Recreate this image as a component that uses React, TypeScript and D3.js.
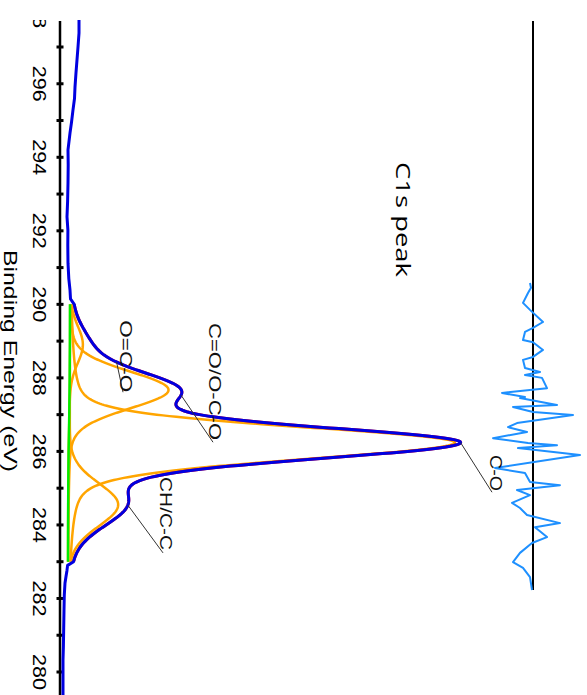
import React from 'react';
import * as d3 from 'd3';

// ---------- data ----------
const energyTicks = [280, 281, 282, 283, 284, 285, 286, 287, 288, 289, 290, 291, 292, 293, 294, 295, 296, 297];
const energyLabels = [280, 282, 284, 286, 288, 290, 292, 294, 296, 298];

const componentNames = ['O=C-O', 'C=O/O-C-O', 'C-O', 'CH/C-C'];
const componentCenters = [288.9, 287.67, 286.24, 284.55];
const componentHeights = [1300, 9900, 38600, 5000];
const componentFwhmHigh = [1.2, 1.2, 1.0, 1.4];
const componentFwhmLow = [1.2, 1.2, 1.08, 1.4];
const componentLorentz = [0.15, 0.15, 0.25, 0.15];

const regionStart = 290;
const regionEnd = 283;

const bgEnergy = [290, 289, 288, 287, 286, 285, 284, 283];
const bgCounts = [1000, 990, 965, 925, 860, 825, 808, 800];

const dataHighEnergy = [297.75, 297.38, 297.0, 296.65, 296.3, 295.91, 295.6, 295.29, 294.95, 294.66, 294.2, 293.8, 293.3, 292.8, 292.38, 292.02, 291.6, 291.12, 290.7, 290.39, 290.15];
const dataHighCounts = [1900, 1900, 1800, 1700, 1600, 1500, 1450, 1300, 1150, 1000, 800, 820, 800, 760, 700, 790, 780, 800, 880, 1000, 1050];
const dataLowEnergy = [282.9, 282.77, 282.6, 282.42, 282.1, 281.68, 281.2, 280.7, 280.32, 279.8, 279.3];
const dataLowCounts = [760, 700, 600, 500, 430, 400, 370, 340, 300, 300, 300];

const residualEnergy = [290.58, 290.45, 290.31, 290.04, 289.85, 289.52, 289.36, 289.25, 289.03, 288.97, 288.76, 288.57, 288.49, 288.27, 288.16, 288.08, 288.0, 287.72, 287.59, 287.48, 287.45, 287.26, 287.21, 287.07, 286.99, 286.77, 286.66, 286.53, 286.36, 286.23, 286.17, 286.09, 285.9, 285.55, 285.41, 285.17, 285.08, 284.95, 284.81, 284.6, 284.46, 284.27, 284.05, 283.94, 283.67, 283.51, 283.24, 282.99, 282.83, 282.58, 282.23];
const residualCounts = [-300, -200, -500, -1000, -300, 1000, 0, -800, -1000, 0, 1000, 0, -1000, -800, 700, -800, 900, 1400, -3100, -800, -1300, 2400, -2000, 0, 4000, -1600, -2500, -600, -4000, -500, 2400, -1500, 4700, -3800, -800, -300, 2700, -1600, -300, -2100, -1300, -600, 2700, 200, 1400, -100, -1300, -2000, -1000, -300, -100];

const labelEnergy = [288.59, 287.9, 285.41, 284.31];
const labelCounts = [6000, 14900, 43000, 10000];
const labelLength = [72, 117, 36, 73];
const leaderStartEnergy = [288.43, 287.53, 286.24, 284.54];
const leaderEndEnergy = [287.61, 286.25, 284.89, 283.24];
const leaderEndCounts = [6300, 15300, 43200, 10300];

// ---------- helpers ----------
function peak(E: number, c: number, h: number, fHigh: number, fLow: number, eta: number) {
  const f = E >= c ? fHigh : fLow;
  const t = (E - c) / f;
  const g = Math.exp(-4 * Math.LN2 * t * t);
  const l = 1 / (1 + 4 * t * t);
  return h * ((1 - eta) * g + eta * l);
}

export default function App() {
  const W = 587, H = 695;
  const y = d3.scaleLinear().domain([297, 280]).range([47, 672]);
  const x = d3.scaleLinear().domain([0, 10000]).range([60, 160]);
  const xr = d3.scaleLinear().domain([0, 1000]).range([533, 543]);
  const bg = d3.scaleLinear().domain(bgEnergy).range(bgCounts);

  const grid = d3.range(regionStart, regionEnd - 0.0001, -0.02);
  const comp = (i: number, E: number) =>
    peak(E, componentCenters[i], componentHeights[i], componentFwhmHigh[i], componentFwhmLow[i], componentLorentz[i]);
  const envelope = (E: number) =>
    bg(E) + componentNames.reduce((s, _, i) => s + comp(i, E), 0);

  const line = d3.line<[number, number]>().x(d => x(d[1])).y(d => y(d[0]));
  const rline = d3.line<[number, number]>().x(d => xr(d[1])).y(d => y(d[0]));

  const bgPath = line(grid.map(E => [E, bg(E)]));
  const compPaths = componentNames.map((_, i) => line(grid.map(E => [E, bg(E) + comp(i, E)])));
  const envPts: [number, number][] = grid.map(E => [E, envelope(E)]);
  const envPath = line(envPts);
  const dataPts: [number, number][] = [
    ...dataHighEnergy.map((E, i) => [E, dataHighCounts[i]] as [number, number]),
    ...envPts,
    ...dataLowEnergy.map((E, i) => [E, dataLowCounts[i]] as [number, number]),
  ];
  const dataPath = line(dataPts);
  const resPath = rline(residualEnergy.map((E, i) => [E, residualCounts[i]]));

  const plotTop = 20;
  const axisX = x(0);
  const resX = xr(0);

  return (
    <svg width={W} height={H} style={{ position: 'absolute', left: 0, top: 0, background: '#fff' }}>
      <defs>
        <clipPath id="plotClip">
          <rect x={0} y={plotTop} width={W} height={H - plotTop} />
        </clipPath>
      </defs>
      <g clipPath="url(#plotClip)">
        {/* axis */}
        <line x1={axisX} x2={axisX} y1={plotTop + 1} y2={H} stroke="#000" strokeWidth={2.5} />
        {energyTicks.map(t => (
          <line key={t} x1={axisX - 3.5} x2={axisX + 3.5} y1={y(t)} y2={y(t)} stroke="#000" strokeWidth={3} />
        ))}
        {energyLabels.map(t => (
          <text key={t} x={33} y={y(t)} transform={`rotate(90, 33, ${y(t)})`} textAnchor="middle"
            fontFamily="'Liberation Sans', Arial, sans-serif" fontSize={18} fill="#000"
            textLength={36} lengthAdjust="spacingAndGlyphs">{t}</text>
        ))}
        {/* residual zero line */}
        <line x1={resX} x2={resX} y1={plotTop + 1} y2={590} stroke="#000" strokeWidth={2} />
        <path d={resPath || ''} fill="none" stroke="#1e90ff" strokeWidth={2} strokeLinejoin="round" />
        {/* components */}
        {compPaths.map((p, i) => (
          <path key={i} d={p || ''} fill="none" stroke="#ffa500" strokeWidth={2.5} />
        ))}
        {/* background */}
        <path d={bgPath || ''} fill="none" stroke="#00ee00" strokeWidth={2.5} />
        {/* envelope and data */}
        <path d={envPath || ''} fill="none" stroke="#ff0000" strokeWidth={3} />
        <path d={dataPath || ''} fill="none" stroke="#0000e0" strokeWidth={3} strokeLinejoin="round" />
        {/* leaders */}
        {componentNames.map((_, i) => (
          <line key={i} x1={x(envelope(leaderStartEnergy[i]))} y1={y(leaderStartEnergy[i])}
            x2={x(leaderEndCounts[i])} y2={y(leaderEndEnergy[i])} stroke="#333" strokeWidth={1} />
        ))}
        {componentNames.map((n, i) => (
          <text key={n} x={x(labelCounts[i])} y={y(labelEnergy[i])}
            transform={`rotate(90, ${x(labelCounts[i])}, ${y(labelEnergy[i])})`} textAnchor="middle"
            fontFamily="'Liberation Sans', Arial, sans-serif" fontSize={16.5} fill="#111"
            textLength={labelLength[i]} lengthAdjust="spacingAndGlyphs">{n}</text>
        ))}
      </g>
      <text x={4} y={361} transform="rotate(90, 4, 361)" textAnchor="middle"
        fontFamily="'Liberation Sans', Arial, sans-serif" fontSize={18} fill="#000"
        textLength={222} lengthAdjust="spacingAndGlyphs">Binding Energy (eV)</text>
      <text x={396} y={219.5} transform="rotate(90, 396, 219.5)" textAnchor="middle"
        fontFamily="'Open Sans', sans-serif" fontSize={20} fill="#000"
        textLength={115} lengthAdjust="spacingAndGlyphs">C1s peak</text>
    </svg>
  );
}
